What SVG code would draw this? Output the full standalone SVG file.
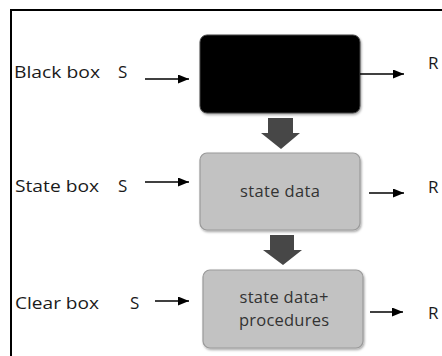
<svg xmlns="http://www.w3.org/2000/svg" width="442" height="356" viewBox="0 0 442 356">
<defs>
<style>
.lbl{font-family:"Open Sans","Liberation Sans",sans-serif;font-size:17px;fill:#1a1a1a}
.in{font-family:"Open Sans","Liberation Sans",sans-serif;font-size:16.5px;fill:#333;text-anchor:middle}
.ln{stroke:#000;stroke-width:1.6;fill:none;marker-end:url(#ah)}
.gbox{fill:#c2c2c2;stroke:#9a9a9a;stroke-width:1.2}
.big{fill:#474747}
</style>
<marker id="ah" viewBox="0 0 10 10" refX="10" refY="5" markerWidth="11" markerHeight="9" markerUnits="userSpaceOnUse" orient="auto" preserveAspectRatio="none">
<path d="M0,0 L10,5 L0,10 z" fill="#000"/>
</marker>
<filter id="sh" x="-10%" y="-10%" width="125%" height="130%">
<feDropShadow dx="1" dy="1.5" stdDeviation="1" flood-color="#000" flood-opacity="0.35"/>
</filter>
</defs>
<rect x="0" y="0" width="442" height="356" fill="#fff"/>
<rect x="11" y="10" width="445" height="360" fill="none" stroke="#000" stroke-width="2"/>

<g id="black-box">
<rect x="200" y="35" width="160" height="78" rx="7" fill="#000" stroke="#444" stroke-width="1" filter="url(#sh)"/>
</g>
<g id="state-box">
<rect class="gbox" x="200" y="153" width="160" height="77" rx="7" filter="url(#sh)"/>
<text class="in" x="280" y="197" textLength="80">state data</text>
</g>
<g id="clear-box">
<rect class="gbox" x="203" y="270" width="160" height="78" rx="7" filter="url(#sh)"/>
<text class="in" x="284" y="303" textLength="89">state data+</text>
<text class="in" x="284" y="326" textLength="90">procedures</text>
</g>

<g id="labels">
<text class="lbl" x="14" y="78" textLength="86" lengthAdjust="spacingAndGlyphs">Black box</text>
<text class="lbl" x="118" y="78">S</text>
<text class="lbl" x="15" y="192" textLength="84" lengthAdjust="spacingAndGlyphs">State box</text>
<text class="lbl" x="118" y="192">S</text>
<text class="lbl" x="15" y="309" textLength="84" lengthAdjust="spacingAndGlyphs">Clear box</text>
<text class="lbl" x="130" y="309">S</text>
<text class="lbl" x="428" y="69">R</text>
<text class="lbl" x="428" y="193">R</text>
<text class="lbl" x="428" y="319">R</text>
</g>

<g id="connectors">
<line class="ln" x1="145" y1="79" x2="189" y2="79"/>
<line class="ln" x1="145" y1="182" x2="189" y2="182"/>
<line class="ln" x1="155" y1="301" x2="189" y2="301"/>
<line class="ln" x1="360" y1="74" x2="404" y2="74"/>
<line class="ln" x1="369" y1="193" x2="404" y2="193"/>
<line class="ln" x1="370" y1="312" x2="403" y2="312"/>
<path class="big" d="M268,118 H293 V133 H300 L281,149 L261,133 H268 Z"/>
<path class="big" d="M270,235 H294 V250 H302 L283,265 L263,250 H270 Z"/>
</g>
</svg>
